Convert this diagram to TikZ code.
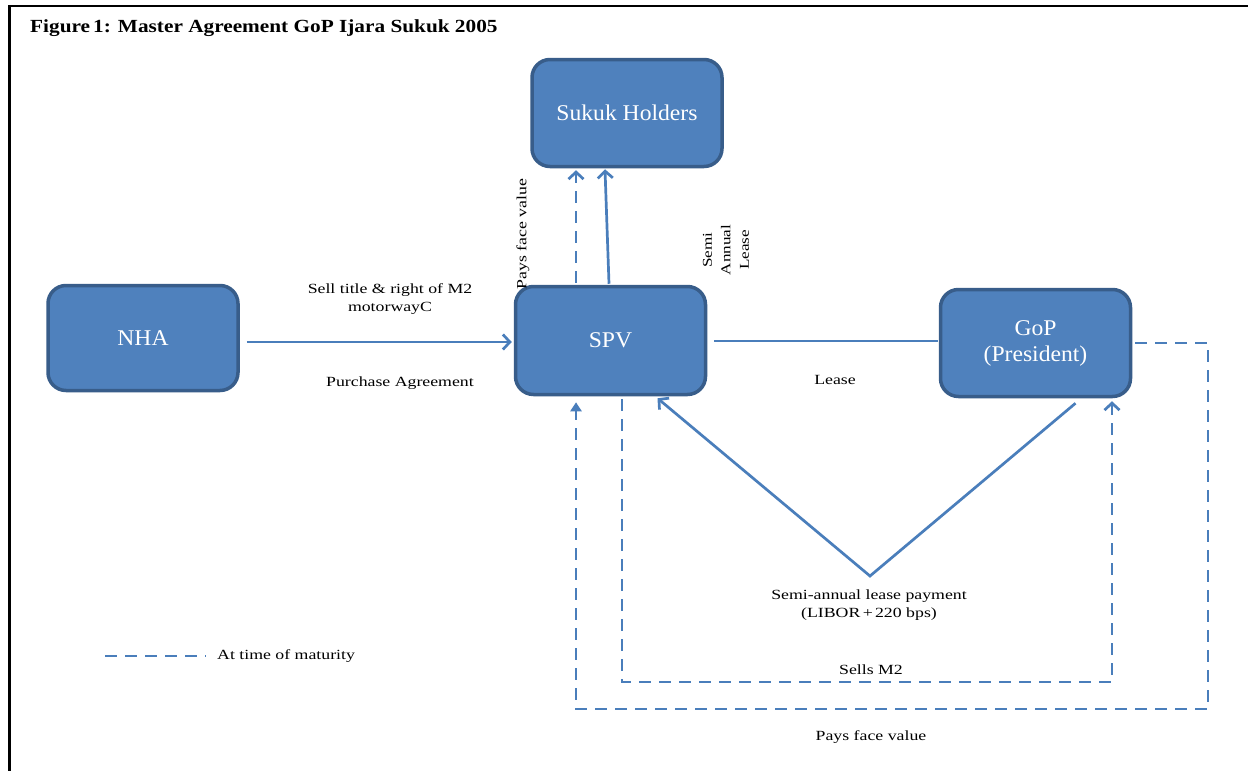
\documentclass[tikz,border=0pt]{standalone}
\usepackage{fontspec}
\setmainfont{Liberation Serif}
\newfontfamily\labfont[FakeStretch=1.27]{Liberation Serif}
\newfontfamily\titfont[FakeStretch=1.15]{Liberation Serif}
\newfontfamily\boxfont[FakeStretch=1.05]{Liberation Serif}
\usetikzlibrary{arrows.meta,calc}
\definecolor{boxfill}{HTML}{4F81BD}
\definecolor{boxline}{HTML}{385D8A}
\definecolor{conn}{HTML}{4A7EBB}
\tikzset{
  entity/.style={draw=boxline, line width=3.5pt, fill=boxfill, rounded corners=18pt,
    minimum width=190pt, minimum height=106pt, text=white, align=center,
    font=\boxfont\fontsize{22.5}{26}\selectfont, inner sep=0pt},
  lab/.style={font=\labfont\fontsize{14}{18}\selectfont, align=center, inner sep=0pt, text=black},
  conline/.style={draw=conn, line width=2.7pt},
  arr/.style={conline, -{Straight Barb[length=7pt,width=15pt,line width=2.7pt]}},
  dashline/.style={conline, dash pattern=on 12pt off 8pt},
  dasharr/.style={dashline, -{Straight Barb[length=7pt,width=15pt,line width=2.7pt]}},
  dashfill/.style={dashline, -{Triangle[length=9pt,width=11pt]}},
}
\begin{document}
\begin{tikzpicture}[x=1pt,y=-1pt]
\useasboundingbox (0,0) rectangle (1248,771);
\fill[white] (0,0) rectangle (1248,771);
% frame
\draw[line width=2.6pt, black] (9.5,771) -- (9.5,6) -- (1248,6);
% title
\node[anchor=base west, inner sep=0pt, font=\titfont\bfseries\fontsize{18.5}{22}\selectfont] (title) at (30,32) {Figure\,1: Master Agreement GoP Ijara Sukuk 2005};
% boxes
\node[entity, minimum height=107pt] (Sukuk) at (627,113) {Sukuk Holders};
\node[entity, minimum height=105pt] (NHA) at (143,338) {NHA};
\node[entity, minimum height=108pt] (SPV) at (610.5,340.5) {SPV};
\node[entity, minimum height=107pt] (GoP) at (1035.5,343) {GoP\\(President)};
% NHA -> SPV
\draw[arr] ($(NHA.east)+(7,4)$) -- ($(SPV.west)+(-2,1.5)$);
% SPV -> Sukuk
\draw[arr] ($(SPV.north)+(-1.5,-1)$) -- ($(Sukuk.south)+(-22,1)$);
\draw[dasharr] ($(SPV.north)+(-34.5,-2)$) -- ($(Sukuk.south)+(-51,2)$);
% SPV -- GoP
\draw[conline] ($(SPV.east)+(7,0.5)$) -- ($(SPV.east -| GoP.west)+(-1,0.5)$);
% V lease payment
\coordinate (V) at (870,576);
\draw[arr] ($(GoP.south)+(40,5)$) -- (V) -- ($(SPV.south)+(47,2)$);
% Sells M2
\coordinate (c1) at (622,682);
\coordinate (c2) at (1112,682);
\draw[dasharr] ($(c1 |- SPV.south)+(0,3)$) -- (c1) -- (c2) -- ($(c2 |- GoP.south)+(0,3)$);
% Pays face value (maturity)
\coordinate (d1) at (1208,343);
\coordinate (d2) at (1208,709);
\coordinate (d3) at (576,709);
\draw[dashfill] ($(GoP.east)+(3,0)$) -- (d1) -- (d2) -- (d3) -- ($(d3 |- SPV.south)+(0,6)$);
% legend
\coordinate (l1) at (105,656);
\coordinate (l2) at (206,656);
\draw[dashline] (l1) -- (l2);
\node[lab, anchor=west] (leg) at (217,656) {At time of maturity};
% labels
\node[lab] (sell) at (390,299) {Sell title \& right of M2\\motorwayC};
\node[lab] (purch) at (400,383) {Purchase Agreement};
\node[lab, rotate=90] (pays1) at (523,234) {Pays face value};
\node[lab, rotate=90, font=\labfont\fontsize{13.5}{18.5}\selectfont] (semi) at (726,250) {Semi\\Annual\\Lease};
\node[lab] (lease) at (835,380) {Lease};
\node[lab] (slp) at (869,605) {Semi-annual lease payment\\(LIBOR\,+\,220 bps)};
\node[lab] (sells) at (871,670) {Sells M2};
\node[lab] (pays2) at (871,737) {Pays face value};
\end{tikzpicture}
\end{document}
